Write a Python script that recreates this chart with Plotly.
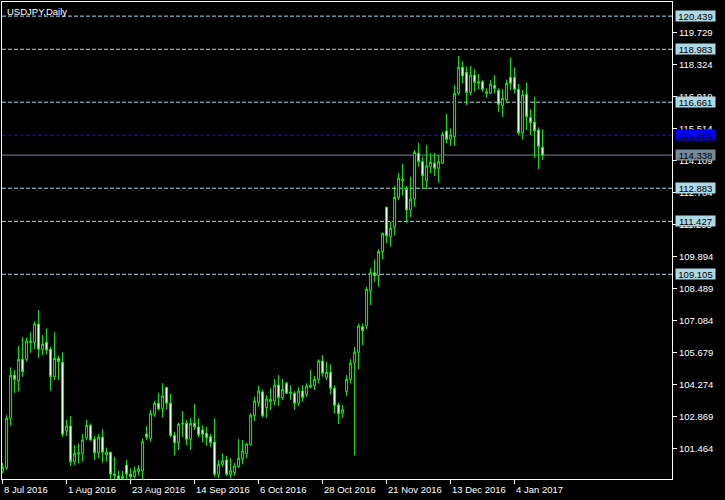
import pandas as pd
import plotly.graph_objects as go

symbol_title = "USDJPY,Daily"
first_date = "2016-07-08"

opens = [100.45, 100.61, 102.78, 104.67, 104.43, 105.37, 105.37, 106.10, 106.10, 106.92,
         105.81, 106.12, 105.81, 104.61, 105.41, 105.24, 102.24, 102.44, 100.88, 101.21,
         101.24, 101.93, 102.47, 101.86, 101.27, 101.95, 101.17, 101.29, 100.33, 100.25,
         100.14, 100.73, 100.33, 100.22, 100.44, 100.48, 102.09, 101.88, 102.96, 103.44,
         103.20, 104.13, 103.44, 102.03, 101.71, 102.53, 102.56, 101.86, 102.56, 102.40,
         102.27, 102.12, 101.97, 101.73, 100.32, 100.76, 100.95, 100.32, 100.40, 100.66,
         101.01, 101.23, 101.61, 102.89, 103.47, 103.94, 103.25, 103.51, 103.54, 104.24,
         103.69, 104.32, 103.86, 103.88, 103.44, 103.98, 103.83, 104.14, 104.21, 104.49,
         105.30, 104.58, 104.80, 104.10, 103.37, 103.00, 103.95, 104.49, 105.20, 105.68,
         106.80, 106.85, 108.38, 109.17, 109.04, 110.10, 112.05, 110.75, 111.17, 112.47,
         113.21, 112.84, 111.93, 112.40, 114.42, 114.05, 113.21, 113.83, 113.98, 113.76,
         113.98, 115.40, 115.03, 115.15, 117.05, 118.19, 117.97, 117.09, 117.85, 117.49,
         117.56, 117.05, 117.05, 117.39, 117.19, 116.51, 116.76, 117.75, 117.75, 117.23,
         115.32, 117.01, 115.99, 115.78, 115.44, 114.68]
highs = [100.82, 102.92, 105.02, 104.90, 105.95, 106.35, 106.33, 106.56, 107.05, 107.54,
         106.44, 106.73, 105.92, 106.56, 105.52, 105.68, 102.71, 102.88, 101.61, 101.68,
         102.09, 102.71, 102.56, 102.00, 102.09, 102.31, 101.49, 101.31, 101.09, 100.48,
         100.48, 100.95, 100.58, 100.66, 100.73, 101.90, 102.44, 103.15, 103.55, 103.90,
         104.32, 104.17, 103.85, 102.19, 102.59, 103.10, 102.71, 102.79, 103.41, 102.78,
         102.47, 102.41, 102.09, 102.78, 100.95, 101.24, 101.13, 101.03, 100.83, 101.87,
         101.83, 101.71, 103.00, 103.73, 104.20, 104.05, 103.80, 104.10, 104.51, 104.68,
         104.51, 104.39, 104.24, 103.98, 104.14, 104.24, 104.32, 104.90, 104.64, 105.37,
         105.56, 105.27, 105.15, 104.24, 103.47, 103.37, 104.68, 105.38, 105.92, 106.95,
         106.95, 108.56, 109.37, 109.76, 110.21, 110.93, 112.07, 111.41, 112.98, 113.56,
         113.95, 112.98, 113.39, 114.56, 114.88, 114.27, 114.78, 114.42, 114.42, 114.34,
         115.36, 116.14, 115.51, 117.42, 118.69, 118.47, 118.22, 118.25, 118.12, 117.90,
         117.63, 117.27, 117.63, 117.85, 117.27, 117.23, 117.66, 118.63, 118.19, 117.46,
         117.19, 117.53, 116.36, 116.90, 115.56, 115.47]
lows = [100.38, 100.51, 102.46, 103.90, 103.98, 104.61, 105.27, 105.66, 105.82, 105.44,
        105.56, 105.59, 103.99, 104.46, 104.46, 101.97, 102.00, 100.69, 100.73, 100.81,
        100.88, 101.83, 101.79, 100.95, 101.02, 100.83, 100.88, 100.00, 100.00, 100.00,
        100.00, 100.05, 100.12, 100.14, 100.29, 100.05, 101.83, 101.76, 102.85, 103.12,
        102.82, 103.18, 101.95, 101.17, 101.39, 101.97, 101.60, 101.39, 102.27, 101.95,
        101.73, 101.58, 101.53, 100.22, 100.15, 100.66, 100.25, 100.15, 100.26, 100.60,
        100.76, 101.03, 101.58, 102.67, 103.29, 102.82, 102.81, 103.15, 103.36, 103.32,
        103.59, 103.85, 103.59, 103.15, 103.32, 103.51, 103.73, 104.10, 104.02, 104.32,
        104.61, 104.46, 103.83, 103.00, 102.53, 102.81, 103.77, 104.32, 101.17, 104.94,
        106.00, 106.70, 107.76, 108.78, 108.56, 109.77, 110.47, 110.32, 110.83, 112.37,
        112.56, 111.37, 111.61, 112.07, 113.83, 112.88, 112.84, 113.54, 113.42, 113.13,
        113.95, 114.85, 114.74, 114.74, 116.98, 117.49, 116.54, 116.98, 117.12, 117.23,
        117.12, 116.87, 117.02, 117.05, 116.24, 116.02, 116.64, 117.19, 117.05, 115.22,
        115.04, 115.44, 115.22, 114.22, 113.72, 114.12]
closes = [100.61, 102.78, 104.67, 104.49, 105.37, 104.83, 106.17, 106.17, 106.92, 105.81,
          106.03, 105.78, 104.61, 105.41, 105.27, 102.08, 102.44, 100.88, 101.24, 101.27,
          101.83, 102.47, 101.83, 101.27, 101.95, 101.29, 101.29, 100.33, 100.28, 100.12,
          100.22, 100.33, 100.22, 100.47, 100.56, 101.75, 101.95, 103.00, 103.44, 103.19,
          103.76, 103.44, 102.03, 101.71, 102.53, 102.56, 101.86, 102.56, 102.41, 102.05,
          102.08, 101.93, 101.71, 100.32, 100.76, 100.91, 100.32, 100.47, 100.69, 101.03,
          101.35, 101.65, 102.92, 103.54, 103.98, 102.89, 103.63, 103.61, 104.24, 103.69,
          104.05, 103.88, 103.94, 103.44, 103.98, 103.69, 104.20, 104.24, 104.49, 105.30,
          104.76, 104.80, 104.10, 103.35, 102.98, 103.15, 104.49, 105.20, 105.69, 106.83,
          106.63, 108.45, 109.17, 109.04, 110.10, 110.90, 110.79, 111.12, 112.48, 113.32,
          113.28, 111.93, 112.40, 114.46, 114.05, 113.43, 113.87, 114.02, 113.76, 114.05,
          115.25, 115.03, 115.22, 117.05, 118.19, 117.81, 117.09, 117.85, 117.53, 117.56,
          117.23, 117.12, 117.45, 117.27, 116.57, 116.83, 117.49, 117.49, 117.23, 115.32,
          116.98, 116.02, 115.76, 115.41, 114.71, 114.34]

# horizontal levels drawn on the chart
dashed_levels = [120.439, 118.983, 116.661, 112.883, 111.427, 109.105]
blue_level = 115.205
bid_level = 114.338

# price scale tick values
price_ticks = [119.729, 118.324, 116.919, 115.514, 114.109, 112.704, 111.299,
               109.894, 108.489, 107.084, 105.679, 104.274, 102.869, 101.464]
label_every = 16

FONT = "Liberation Sans"
LIME = "#00FF00"
LEVEL_BLUE = "#ADD8E6"

n = len(opens)
dates = pd.bdate_range(first_date, periods=n)
xpos = list(range(n))
tick_idx = list(range(0, n, label_every))
tick_labels = [f"{dates[i].day} {dates[i].strftime('%b %Y')}" for i in tick_idx]

fig = go.Figure()
fig.add_trace(go.Candlestick(
    x=xpos, open=opens, high=highs, low=lows, close=closes,
    increasing=dict(line=dict(color=LIME, width=1), fillcolor="black"),
    decreasing=dict(line=dict(color=LIME, width=1), fillcolor="white"),
    whiskerwidth=0, hoverinfo="skip", showlegend=False,
))

shapes = []
for lv in dashed_levels:
    shapes.append(dict(type="line", xref="paper", x0=0, x1=1, yref="y", y0=lv, y1=lv,
                       line=dict(color=LEVEL_BLUE, width=1, dash="4px,2px"), layer="below"))
shapes.append(dict(type="line", xref="paper", x0=0, x1=1, yref="y", y0=blue_level, y1=blue_level,
                   line=dict(color="#0000FF", width=1.3, dash="4px,2px"), layer="below"))
shapes.append(dict(type="line", xref="paper", x0=0, x1=1, yref="y", y0=bid_level, y1=bid_level,
                   line=dict(color="#778899", width=1), layer="below"))

annotations = []
# title
annotations.append(dict(text=symbol_title, xref="paper", yref="paper", x=0, y=1,
                        xanchor="left", yanchor="top", xshift=3, yshift=-2, showarrow=False,
                        font=dict(family=FONT, size=9.5, color="white")))
# date labels (left-aligned at tick)
for i, lab in zip(tick_idx, tick_labels):
    annotations.append(dict(text=lab, xref="x", yref="paper", x=i, y=0,
                            xanchor="left", yanchor="top", yshift=-3, xshift=-1, showarrow=False,
                            font=dict(family=FONT, size=9.5, color="white")))
# price boxes
def price_box(val, bg, fg="black"):
    return dict(text=f"{val:.3f}", xref="paper", yref="y", x=1, y=val,
                xanchor="left", yanchor="middle", xshift=3, showarrow=False,
                bgcolor=bg, width=39, height=10, borderpad=0,
                font=dict(family=FONT, size=9.5, color=fg))
for lv in dashed_levels:
    annotations.append(price_box(lv, LEVEL_BLUE))
annotations.append(price_box(blue_level, "#0000FF"))
annotations.append(price_box(bid_level, "#778899"))

fig.update_layout(
    width=725, height=500,
    margin=dict(l=2, r=53, t=2, b=21),
    paper_bgcolor="black", plot_bgcolor="black",
    shapes=shapes, annotations=annotations,
    font=dict(family=FONT, size=9.5, color="white"),
    xaxis=dict(range=[-0.15, 167.35], showgrid=False, zeroline=False,
               showline=True, linecolor="white", linewidth=1, mirror=True,
               tickvals=tick_idx, showticklabels=False, ticks="outside",
               ticklen=4, tickcolor="white", tickwidth=1,
               rangeslider=dict(visible=False)),
    yaxis=dict(range=[100.116, 121.06], side="right", showgrid=False, zeroline=False,
               showline=True, linecolor="white", linewidth=1, mirror=True,
               tickvals=price_ticks, ticktext=[f"{v:.3f}" for v in price_ticks],
               ticks="outside", ticklen=4, tickcolor="white", tickwidth=1,
               tickfont=dict(family=FONT, size=9.5, color="white")),
    hovermode=False,
)

fig.write_html("out.html", config={"displayModeBar": False},
               post_script="document.body.style.margin='0';document.body.style.background='black';")
